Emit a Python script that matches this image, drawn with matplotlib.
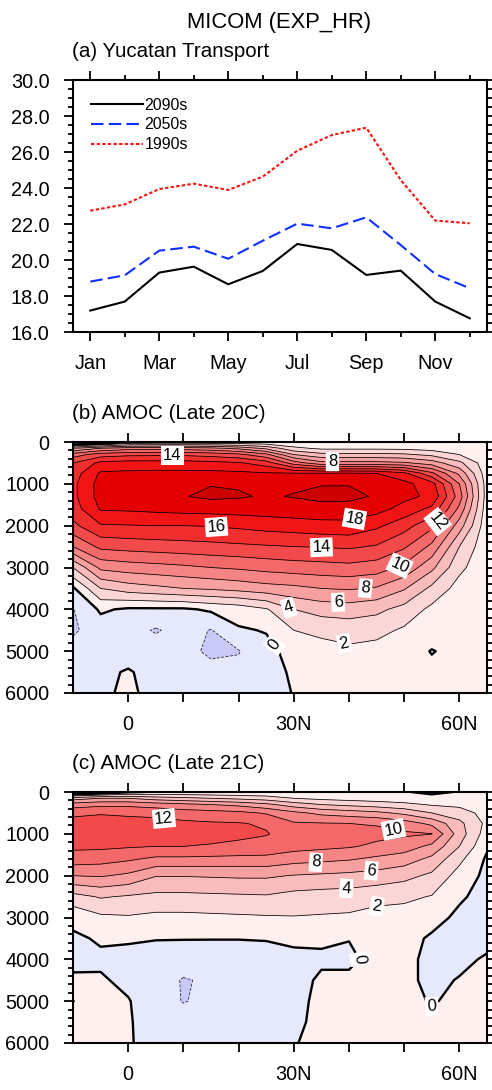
import numpy as np
import matplotlib
matplotlib.use("Agg")
import matplotlib.pyplot as plt
from matplotlib.colors import ListedColormap, BoundaryNorm
from matplotlib.ticker import FixedLocator, MultipleLocator, FuncFormatter

plt.rcParams['font.family'] = ['Liberation Sans', 'DejaVu Sans']

# ---------------- data: (a) Yucatan transport ----------------
months = np.arange(1, 13)
month_labels = ['Jan', 'Mar', 'May', 'Jul', 'Sep', 'Nov']
y2090 = [17.19, 17.69, 19.30, 19.63, 18.65, 19.39, 20.89, 20.56, 19.17, 19.41, 17.69, 16.76]
y2050 = [18.80, 19.15, 20.52, 20.74, 20.07, 21.07, 22.02, 21.76, 22.37, 20.83, 19.22, 18.43]
y1990 = [22.74, 23.09, 23.94, 24.24, 23.89, 24.63, 26.07, 26.94, 27.35, 24.44, 22.19, 22.04]

# ---------------- data: AMOC streamfunction (Sv) ----------------
lats = [-10, -5, 0, 5, 10, 15, 20, 25, 30, 35, 40, 45, 50, 55, 60, 65]
depths = [0, 150, 300, 500, 750, 1000, 1300, 1600, 2000, 2500, 3000, 3500,
          4000, 4500, 5000, 5500, 6000]

amoc_20c = [
    [-4, -3, -0.2, 0.2, 0.2, 0.2, 0.2, 0.2, 0.2, 0.2, 0.2, 0.2, 0.2, 0.2, 0.2, 0.2],
    [6, 8, 9, 9, 9, 8.5, 7.5, 5.5, 2.5, 1.6, 1.6, 1.6, 1.5, 1.2, 0.8, 0.3],
    [11, 13, 13.5, 13.6, 13.6, 13.2, 12.5, 10.5, 6, 4.6, 4.5, 4.5, 4.3, 3.5, 2, 0.5],
    [14, 16.5, 16.8, 16.8, 16.8, 16.6, 16.2, 15, 11, 8.6, 8.6, 8.6, 8.3, 7, 4.5, 0.7],
    [15, 18.3, 18.4, 18.5, 18.5, 18.5, 18.4, 18.2, 18.1, 18.1, 18.2, 18.0, 16.5, 12.5, 7.5, 0.8],
    [15.5, 18.8, 19.2, 19.4, 19.7, 19.9, 19.8, 19.5, 19.7, 19.9, 19.9, 19.5, 18.6, 16.8, 10, 1],
    [15.5, 18.8, 19.3, 19.6, 19.9, 20.4, 20.2, 19.8, 20.1, 20.5, 20.5, 19.8, 18.5, 17.6, 11, 1],
    [15, 18.2, 18.3, 18.5, 18.7, 18.8, 18.9, 19, 19.2, 19.3, 19.2, 18.7, 17.3, 15.5, 9.5, 0.8],
    [13.5, 15.8, 15.9, 16, 16, 16.1, 16.4, 16.8, 17, 17.3, 17.4, 16.4, 14.8, 12.5, 7, 0.6],
    [10, 12.5, 12.8, 13, 13.2, 13.4, 13.6, 13.8, 14, 14.1, 14.3, 13.8, 12.3, 9.5, 4, 0.5],
    [4, 8.5, 9, 9.3, 9.6, 10, 10.3, 10.7, 11, 11.2, 11.4, 11, 9.5, 6.5, 2.5, 0.5],
    [-0.3, 4, 5, 5.5, 6, 6.3, 6.7, 7.2, 7.5, 8, 8.2, 7.8, 6.2, 3.5, 1.2, 0.5],
    [-2.1, 0.3, -0.3, -0.3, -0.3, 0.3, 0.8, 1.8, 4, 4.8, 5, 4.5, 3.3, 1.5, 0.7, 0.4],
    [-2.3, -1, -1.2, -2.2, -1.2, -2.1, -0.2, 0.1, 2, 2.5, 2.8, 2.6, 1.7, 1, 0.6, 0.4],
    [-1.2, -0.8, -1, -1, -1.5, -2.3, -2.1, -0.5, 0.6, 1.2, 1.6, 1.3, 1, -0.1, 0.6, 0.4],
    [-0.5, -0.5, 0.2, -0.8, -1.2, -1.5, -1.5, -0.8, 0.3, 0.8, 1, 0.9, 0.7, 0.5, 0.5, 0.3],
    [-0.3, -0.3, 0.3, -0.5, -0.6, -0.6, -0.6, -0.5, 0.05, 0.5, 0.7, 0.6, 0.5, 0.4, 0.4, 0.3],
]

amoc_21c = [
    [-3, -2, -0.3, 0.2, 0.2, 0.2, 0.2, 0.2, 0.2, 0.2, 0.2, 0.2, 0.1, -0.3, 0.1, 0.3],
    [5, 6, 6, 5, 4.5, 4, 3.5, 3, 2, 1.5, 1.2, 1, 0.8, 0.5, 0.5, 0.5],
    [9, 9.5, 9.5, 9, 8.5, 8, 7.5, 6.5, 5, 4, 3.5, 3, 2.5, 1.8, 1.5, 0.8],
    [11.5, 11.8, 11.6, 11.5, 11, 10.8, 10.5, 9.8, 8.5, 7.5, 7, 6.5, 5.5, 4, 3, 1.2],
    [12.8, 13, 12.8, 12.6, 12.4, 12.2, 12.1, 11.8, 10.2, 10.1, 10, 9.8, 9, 7.5, 4.5, 1.5],
    [13, 13.2, 13, 12.8, 12.6, 12.4, 12.3, 12.1, 11.3, 11, 10.8, 10.6, 10.3, 10.05, 5, 1],
    [12.4, 12.4, 12.2, 12, 12, 11.9, 11.7, 11.4, 10.8, 10.5, 10.2, 9.6, 9, 7.5, 4, 0.3],
    [11.1, 10.8, 10.3, 9.6, 9.6, 9.5, 9.4, 9.4, 8.8, 8.5, 8.2, 7.6, 7, 5.5, 2.5, -0.3],
    [8, 8.2, 7.6, 6.1, 6.1, 6.2, 6.3, 6.3, 5.9, 5.7, 5.5, 5.2, 4.6, 3.6, 1.2, -0.5],
    [3.3, 4.2, 3.8, 3.5, 3.5, 3.6, 3.7, 3.8, 3.3, 3.1, 3.0, 2.6, 2.4, 1.9, 0.2, -0.5],
    [0.5, 1.6, 1.8, 1.5, 1.5, 1.6, 1.7, 1.8, 1.9, 1.8, 1.7, 1.3, 1.2, 0.5, -0.3, -0.5],
    [-0.3, 0.2, 0.15, 0.05, 0.05, 0.05, 0.05, 0.1, 0.3, 0.3, 0.05, 0.6, 0.5, -0.2, -0.5, -0.5],
    [-0.5, -0.3, -0.4, -0.5, -0.7, -0.8, -0.8, -0.7, -0.4, -0.3, -0.3, 0.5, 0.4, -0.4, -0.4, 0.2],
    [0.3, 0.2, -0.4, -0.7, -2.2, -1.6, -1.2, -1, -0.7, 0.3, 0.3, 0.5, 0.4, -0.4, 0.1, 0.2],
    [2.1, 0.5, 0.1, -1, -2.1, -1.5, -1.2, -1, -0.6, 0.5, 0.5, 0.5, 0.4, -0.1, 0.3, 0.2],
    [0.8, 0.5, 0.2, -1, -1, -1.2, -1, -0.8, -0.4, 0.5, 0.5, 0.5, 0.4, 0.3, 0.3, 0.2],
    [0.3, 0.3, 0.2, -0.8, -0.7, -0.8, -0.8, -0.6, -0.1, 0.5, 0.5, 0.5, 0.4, 0.3, 0.3, 0.2],
]

# contour label anchors (lat, depth) for each labelled level
labels_20c = {14: [(8, 350), (35, 2530)], 8: [(37, 470), (43, 3550)], 16: [(16, 2000)],
              18: [(41, 1850)], 12: [(57, 2000)], 10: [(49, 2900)], 6: [(38, 3870)],
              4: [(29, 4000)], 2: [(39, 4880)], 0: [(27, 4800)]}
labels_21c = {12: [(6.5, 600)], 10: [(48, 930)], 8: [(34, 1720)], 6: [(44, 1830)],
              4: [(39.5, 2230)], 2: [(45, 2670)], 0: [(43, 4100), (53, 5550)]}

# ---------------- style ----------------
fill_levels = [-6, -4, -2, 0, 2, 4, 6, 8, 10, 12, 14, 16, 18, 20, 22]
fill_colors = ['#b0b0f0', '#c8c9f6', '#e6e8fb', '#fdf0ef', '#fbd6d6', '#f9bcbc',
               '#f7a0a0', '#f58484', '#f36868', '#f24a4a', '#f12e2e', '#f01414',
               '#e40000', '#cc0000']
line_levels = [-4, -2, 0, 2, 4, 6, 8, 10, 12, 14, 16, 18, 20]
cmap = ListedColormap(fill_colors)
norm = BoundaryNorm(fill_levels, cmap.N)

TICK_FS = 14.3
TITLE_FS = 14.8
MAIN_FS = 15.8

fig = plt.figure(figsize=(4.92, 10.9), dpi=100)

def style_axes(ax):
    for s in ax.spines.values():
        s.set_linewidth(1.5)
    ax.tick_params(which='both', direction='out', top=True, right=True,
                   width=1.3, labelsize=TICK_FS)
    ax.tick_params(which='major', length=6.5)
    ax.tick_params(which='minor', length=3.5)
    ax.tick_params(axis='x', which='both', pad=9)
    ax.tick_params(axis='y', which='both', pad=10.5)

L, W = 73 / 492, 414 / 492

# ---------------- (a) ----------------
axa = fig.add_axes([L, 1 - 332 / 1090, W, 252 / 1090])
axa.plot(months, y2090, color='black', lw=1.5, label='2090s')
axa.plot(months, y2050, color='#1030ff', lw=1.5, dashes=(6, 2.5), label='2050s')
axa.plot(months, y1990, color='#ff1010', lw=1.5, dashes=(1.6, 1.1), label='1990s')
axa.set_xlim(0.5, 12.5)
axa.set_ylim(16, 30)
axa.xaxis.set_major_locator(FixedLocator([1, 3, 5, 7, 9, 11]))
axa.set_xticklabels(month_labels)
axa.xaxis.set_minor_locator(MultipleLocator(1))
axa.yaxis.set_major_locator(MultipleLocator(2))
axa.yaxis.set_minor_locator(MultipleLocator(0.5))
axa.yaxis.set_major_formatter(FuncFormatter(lambda v, p: f'{v:.1f}'))
style_axes(axa)
axa.legend(loc='upper left', bbox_to_anchor=(0.044, 0.93), frameon=False,
           fontsize=11.4, handlelength=3.3, handletextpad=0.05,
           labelspacing=0.3, borderpad=0, borderaxespad=0)

fig.text(0.567, 1 - 28 / 1090, 'MICOM (EXP_HR)', ha='center', va='baseline',
         fontsize=MAIN_FS)
fig.text(72 / 492, 1 - 57 / 1090, '(a) Yucatan Transport', ha='left',
         va='baseline', fontsize=TITLE_FS)

# ---------------- (b), (c) ----------------
def amoc_panel(bottom_px, field, labels, title, title_base_px):
    ax = fig.add_axes([L, 1 - bottom_px / 1090, W, 251 / 1090])
    Z = np.array(field, dtype=float)
    X, Y = np.meshgrid(lats, depths)
    ax.contourf(X, Y, Z, levels=fill_levels, cmap=cmap, norm=norm)
    for lev in line_levels:
        if lev < 0:
            kw = dict(colors='#222244', linewidths=0.6, linestyles='dashed')
        elif lev == 0:
            kw = dict(colors='black', linewidths=1.7)
        else:
            kw = dict(colors='black', linewidths=0.55)
        cs = ax.contour(X, Y, Z, levels=[lev], **kw)
        if lev in labels and len(cs.allsegs[0]) > 0:
            ax.clabel(cs, manual=labels[lev], fmt='%d', fontsize=12,
                      inline=True, inline_spacing=3)
            for t in cs.labelTexts:
                t.set_bbox(dict(boxstyle='square,pad=0.12', fc='white', ec='none'))
    ax.set_xlim(-10, 65)
    ax.set_ylim(6000, 0)
    ax.xaxis.set_major_locator(FixedLocator([0, 10, 20, 30, 40, 50, 60]))
    ax.xaxis.set_major_formatter(FuncFormatter(
        lambda v, p: {0: '0', 30: '30N', 60: '60N'}.get(int(round(v)), '')))
    ax.yaxis.set_major_locator(MultipleLocator(1000))
    ax.yaxis.set_minor_locator(MultipleLocator(200))
    ax.yaxis.set_major_formatter(FuncFormatter(lambda v, p: f'{int(v)}'))
    style_axes(ax)
    fig.text(72 / 492, 1 - title_base_px / 1090, title, ha='left',
             va='baseline', fontsize=TITLE_FS)
    return ax

amoc_panel(693, amoc_20c, labels_20c, '(b) AMOC (Late 20C)', 419)
amoc_panel(1043, amoc_21c, labels_21c, '(c) AMOC (Late 21C)', 769)

fig.savefig('out.png', dpi=100)
